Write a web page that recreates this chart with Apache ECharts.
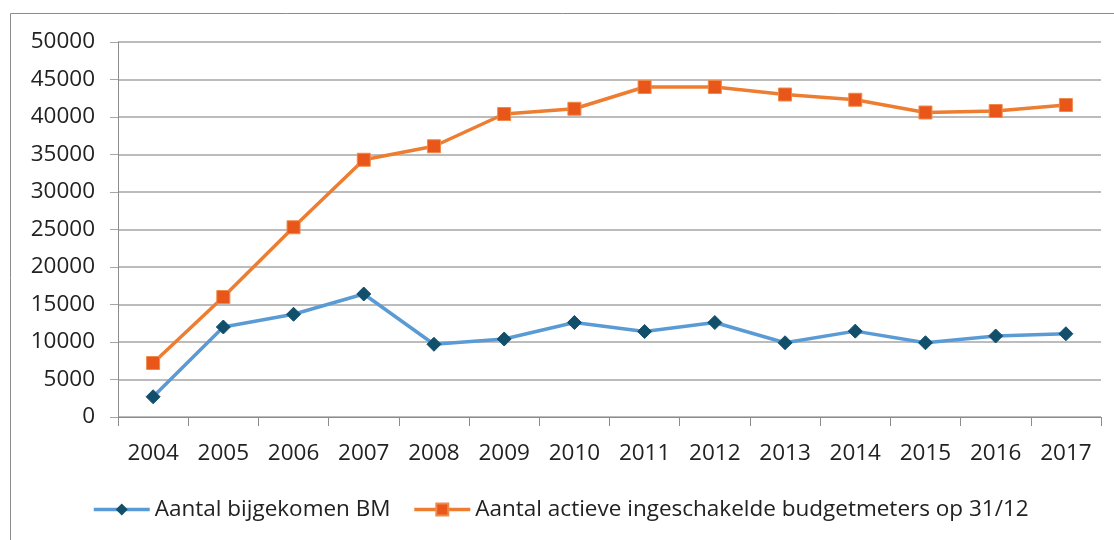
<!DOCTYPE html>
<html lang="nl">
<head>
    <meta charset="utf-8">
    <title>Budgetmeters</title>
    <script src="https://cdn.jsdelivr.net/npm/echarts@6/dist/echarts.min.js"></script>
    <style>
        html, body { margin: 0; padding: 0; background: #fff; }
        #main { width: 1114px; height: 540px; }
    </style>
</head>
<body>
<div id="main"></div>
<script type="text/javascript">
    var years = ['2004', '2005', '2006', '2007', '2008', '2009', '2010', '2011', '2012', '2013', '2014', '2015', '2016', '2017'];
    var bijgekomen = [2700, 12000, 13700, 16400, 9700, 10400, 12600, 11400, 12600, 9900, 11450, 9900, 10800, 11100];
    var actief = [7200, 16000, 25300, 34300, 36100, 40400, 41100, 44000, 44000, 43000, 42300, 40600, 40800, 41600];
    var seriesNames = ['Aantal bijgekomen BM', 'Aantal actieve ingeschakelde budgetmeters op 31/12'];

    var font = '"Open Sans", "Liberation Sans", sans-serif';
    var myChart = echarts.init(document.getElementById('main'));
    var option = {
        animation: false,
        textStyle: { fontFamily: font },
        // kader rond de grafiek
        graphic: [{
            type: 'rect',
            shape: { x: 10.5, y: 13.5, width: 1200, height: 600 },
            style: { fill: null, stroke: '#8c8c8c', lineWidth: 1 },
            silent: true
        }],
        grid: { left: 118, right: 13, top: 42, bottom: 123, containLabel: false },
        legend: {
            top: 493,
            left: 87,
            itemWidth: 56,
            itemHeight: 15,
            itemGap: 22,
            textStyle: { fontSize: 22.5, color: '#222', fontFamily: font },
            data: [
                { name: seriesNames[0], itemStyle: { color: '#124f6b' }, lineStyle: { width: 3.5, color: '#5b9bd5' } },
                { name: seriesNames[1], itemStyle: { color: '#e9561a' }, lineStyle: { width: 3.5, color: '#ed7d31' } }
            ]
        },
        xAxis: {
            type: 'category',
            data: years,
            boundaryGap: true,
            axisLine: { lineStyle: { color: '#8c8c8c', width: 1 } },
            axisTick: { show: true, length: 9, alignWithLabel: false, lineStyle: { color: '#8c8c8c' } },
            axisLabel: { fontSize: 22.5, color: '#222', margin: 25, fontFamily: font }
        },
        yAxis: {
            type: 'value',
            min: 0,
            max: 50000,
            interval: 5000,
            axisLine: { show: true, lineStyle: { color: '#8c8c8c', width: 1 } },
            axisTick: { show: true, length: 8, lineStyle: { color: '#a6a6a6' } },
            splitLine: { lineStyle: { color: '#a6a6a6', width: 1.5 } },
            axisLabel: {
                fontSize: 22.5, color: '#222', margin: 23, fontFamily: font,
                formatter: function (v) { return String(v); }
            }
        },
        series: [{
            name: seriesNames[0],
            type: 'line',
            data: bijgekomen,
            symbol: 'diamond',
            symbolSize: 14,
            lineStyle: { color: '#5b9bd5', width: 3.5 },
            itemStyle: { color: '#124f6b', borderColor: '#124f6b' }
        }, {
            name: seriesNames[1],
            type: 'line',
            data: actief,
            symbol: 'rect',
            symbolSize: 13,
            lineStyle: { color: '#ed7d31', width: 3.5 },
            itemStyle: { color: '#e9561a', borderColor: '#f08a4a', borderWidth: 1 }
        }]
    };
    myChart.setOption(option);
</script>
</body>
</html>
